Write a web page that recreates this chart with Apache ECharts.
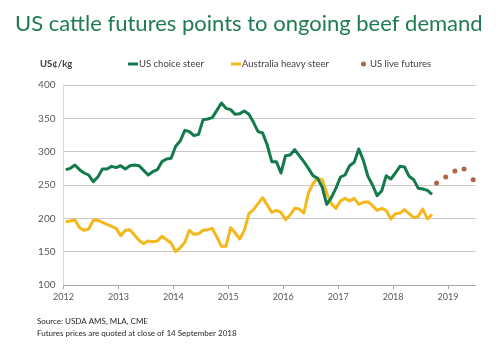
<!DOCTYPE html>
<html>
<head>
<meta charset="utf-8">
<title>US cattle futures points to ongoing beef demand</title>
<script src="https://cdn.jsdelivr.net/npm/echarts@6/dist/echarts.min.js"></script>
<style>
  html, body { margin: 0; padding: 0; background: #ffffff; }
  #chart { width: 500px; height: 345px; }
</style>
</head>
<body>
<div id="chart"></div>
<script>
// Monthly prices, US¢/kg, January 2012 to September 2018
const startYear = 2012;
const yearTicks = [2012, 2013, 2014, 2015, 2016, 2017, 2018, 2019];
const valueTicks = [100, 150, 200, 250, 300, 350, 400];

const usChoiceSteer = [
  273, 275, 280, 273, 268, 265, 255, 262, 274, 274, 278, 276,
  279, 274, 279, 280, 279, 272, 265, 270, 273, 285, 289, 290,
  308, 316, 332, 330, 324, 326, 348, 349, 351, 362, 373, 365,
  363, 356, 357, 361, 356, 344, 330, 328, 310, 285, 285, 268,
  294, 295, 303, 294, 285, 275, 264, 260, 247, 221, 231, 245,
  262, 265, 279, 284, 304, 287, 263, 250, 234, 241, 264, 259,
  268, 278, 277, 263, 258, 245, 244, 242, 236
];

const ausHeavySteer = [
  195, 196, 198, 186, 182, 184, 197, 197, 194, 191, 188, 185,
  174, 182, 183, 175, 167, 162, 166, 165, 166, 173, 168, 163,
  150, 156, 164, 182, 176, 177, 182, 183, 185, 172, 158, 158,
  186, 178, 169, 182, 207, 213, 222, 231, 220, 209, 212, 209,
  198, 205, 215, 214, 208, 238, 252, 260, 258, 238, 222, 215,
  226, 230, 226, 230, 221, 224, 225, 219, 212, 215, 212, 199,
  207, 208, 213, 207, 201, 203, 214, 199, 206
];

// Live cattle futures contract months and settlement prices
const futuresMonths = ['2018-10', '2018-12', '2019-02', '2019-04', '2019-06'];
const usLiveFutures = [253, 262, 271, 274, 258];

// Place a month at its middle on a decimal-year axis
function monthPos(year, month) {
  return year + (month - 0.5) / 12;
}

const steerData = usChoiceSteer.map((v, i) => [monthPos(startYear, i + 1), v]);
const ausData = ausHeavySteer.map((v, i) => [monthPos(startYear, i + 1), v]);
const futuresData = futuresMonths.map((m, i) => {
  const [y, mo] = m.split('-').map(Number);
  return [monthPos(y, mo), usLiveFutures[i]];
});

const FONT = 'Lato, "Open Sans", sans-serif';
const GREEN = '#137a4b';
const YELLOW = '#f4b81c';
const BROWN = '#9c3f17';

const legendText = { fontFamily: FONT, fontSize: 9.5, color: '#404040', padding: [0, 0, 0, -4] };

const chart = echarts.init(document.getElementById('chart'), null, { renderer: 'canvas' });

chart.setOption({
  animation: false,
  backgroundColor: '#ffffff',
  textStyle: { fontFamily: FONT },
  title: {
    text: 'US cattle futures points to ongoing beef demand',
    left: 15,
    top: 13,
    padding: 0,
    textStyle: { fontFamily: FONT, fontSize: 22, fontWeight: 'normal', color: '#1f7b51' }
  },
  legend: [
    {
      data: ['US choice steer'], left: 128, top: 59, padding: 0,
      icon: 'rect', itemWidth: 10, itemHeight: 3,
      textStyle: legendText
    },
    {
      data: ['Australia heavy steer'], left: 231, top: 59, padding: 0,
      icon: 'rect', itemWidth: 10, itemHeight: 3,
      textStyle: legendText
    },
    {
      data: ['US live futures'], left: 361, top: 59, padding: 0,
      icon: 'circle', itemWidth: 5, itemHeight: 5,
      textStyle: Object.assign({}, legendText, { padding: [0, 0, 0, -1] })
    }
  ],
  graphic: [
    {
      type: 'text', left: 40, top: 59,
      style: { text: 'US¢/kg', font: 'bold 9.5px ' + FONT, fill: '#404040' }
    },
    {
      type: 'text', left: 37, top: 317,
      style: { text: 'Source: USDA AMS, MLA, CME', font: '8px ' + FONT, fill: '#262626' }
    },
    {
      type: 'text', left: 37, top: 329,
      style: { text: 'Futures prices are quoted at close of 14 September 2018', font: '8px ' + FONT, fill: '#262626' }
    }
  ],
  grid: { left: 63.5, right: 24.5, top: 85, bottom: 60, containLabel: false },
  xAxis: {
    type: 'value',
    min: 2012,
    max: 2019.5,
    interval: 1,
    axisLine: { show: true, lineStyle: { color: '#a6a6a6', width: 1 } },
    axisTick: { show: true, length: 4, customValues: yearTicks, lineStyle: { color: '#a6a6a6' } },
    axisLabel: {
      customValues: yearTicks,
      formatter: v => String(v),
      fontFamily: FONT, fontSize: 9, color: '#595959', margin: 8
    },
    splitLine: { show: false }
  },
  yAxis: {
    type: 'value',
    min: 100,
    max: 400,
    interval: 50,
    axisLine: { show: true, lineStyle: { color: '#d9d9d9', width: 1 } },
    axisTick: { show: false },
    axisLabel: {
      customValues: valueTicks,
      fontFamily: FONT, fontSize: 10, color: '#595959', margin: 8
    },
    splitLine: { show: true, lineStyle: { color: '#c8c8c8', width: 1 } }
  },
  series: [
    {
      name: 'US choice steer',
      type: 'line',
      data: steerData,
      symbol: 'none',
      color: GREEN,
      lineStyle: { color: GREEN, width: 3, join: 'round' },
      z: 3
    },
    {
      name: 'Australia heavy steer',
      type: 'line',
      data: ausData,
      symbol: 'none',
      color: YELLOW,
      lineStyle: { color: YELLOW, width: 3, join: 'round' },
      z: 2
    },
    {
      name: 'US live futures',
      type: 'scatter',
      data: futuresData,
      symbol: 'circle',
      symbolSize: 5,
      color: BROWN,
      itemStyle: { color: BROWN },
      z: 4
    }
  ]
});
</script>
</body>
</html>
